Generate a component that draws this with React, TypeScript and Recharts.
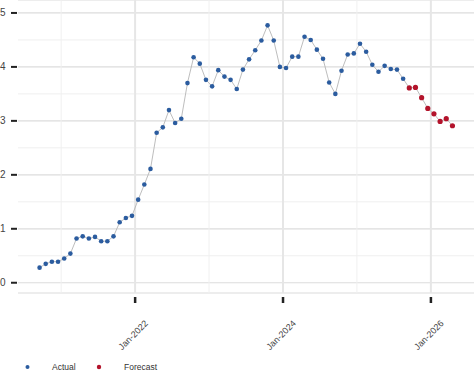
import React from 'react'
import { ComposedChart, Line, XAxis, YAxis, CartesianGrid, ReferenceLine } from 'recharts'

// monthly values
const actualMonths = [
  '2020-09', '2020-10', '2020-11', '2020-12',
  '2021-01', '2021-02', '2021-03', '2021-04', '2021-05', '2021-06', '2021-07', '2021-08', '2021-09', '2021-10', '2021-11', '2021-12',
  '2022-01', '2022-02', '2022-03', '2022-04', '2022-05', '2022-06', '2022-07', '2022-08', '2022-09', '2022-10', '2022-11', '2022-12',
  '2023-01', '2023-02', '2023-03', '2023-04', '2023-05', '2023-06', '2023-07', '2023-08', '2023-09', '2023-10', '2023-11', '2023-12',
  '2024-01', '2024-02', '2024-03', '2024-04', '2024-05', '2024-06', '2024-07', '2024-08', '2024-09', '2024-10', '2024-11', '2024-12',
  '2025-01', '2025-02', '2025-03', '2025-04', '2025-05', '2025-06', '2025-07', '2025-08',
]
const actualValues = [
  0.28, 0.35, 0.39, 0.39,
  0.45, 0.54, 0.82, 0.86, 0.82, 0.85, 0.77, 0.77, 0.86, 1.12, 1.2, 1.24,
  1.54, 1.82, 2.11, 2.78, 2.88, 3.2, 2.96, 3.04, 3.7, 4.18, 4.06, 3.76,
  3.64, 3.94, 3.82, 3.76, 3.59, 3.95, 4.14, 4.31, 4.49, 4.77, 4.49, 4.0,
  3.98, 4.19, 4.19, 4.56, 4.5, 4.32, 4.15, 3.71, 3.5, 3.93, 4.23, 4.25,
  4.43, 4.28, 4.04, 3.91, 4.02, 3.96, 3.95, 3.78,
]
const forecastMonths = ['2025-09', '2025-10', '2025-11', '2025-12', '2026-01', '2026-02', '2026-03', '2026-04']
const forecastValues = [3.61, 3.62, 3.43, 3.23, 3.13, 2.99, 3.04, 2.91]

const xTickMonths = ['2022-01', '2024-01', '2026-01']
const xTickLabels = ['Jan-2022', 'Jan-2024', 'Jan-2026']
const xMinorMonths = ['2021-01', '2023-01', '2025-01']
const yTicks = [0, 1, 2, 3, 4, 5]
const yMinor = [0.5, 1.5, 2.5, 3.5, 4.5]

const BLUE = '#2b5c9f'
const RED = '#b3132b'

// months since Jan-2022
const monthIndex = (m: string) => {
  const [y, mo] = m.split('-').map(Number)
  return (y - 2022) * 12 + (mo - 1)
}

const data = [
  ...actualMonths.map((m, i) => ({ x: monthIndex(m) + 0.5, line: actualValues[i], actual: actualValues[i] })),
  ...forecastMonths.map((m, i) => ({ x: monthIndex(m) + 0.5, line: forecastValues[i], forecast: forecastValues[i] })),
]

const xTicks = xTickMonths.map(monthIndex)

const YTick = ({ x, y, payload }: any) => (
  <g>
    <line x1={x - 7} x2={x - 1} y1={y} y2={y} stroke="#222" strokeWidth={2} />
    <text x={5.5} y={y} dy={3.5} textAnchor="end" fontSize={10} fill="#444" fontFamily="Liberation Sans, Arial, sans-serif">
      {payload.value}
    </text>
  </g>
)

const XTick = ({ x, y, payload }: any) => {
  const label = xTickLabels[xTicks.indexOf(payload.value)]
  const tx = x + 13.5
  const ty = y + 31
  return (
    <g>
      <rect x={x - 1.2} y={y + 4} width={2.5} height={6} fill="#222" />
      <text
        x={tx}
        y={ty}
        textAnchor="end"
        fontSize={9}
        fill="#444"
        fontFamily="Liberation Sans, Arial, sans-serif"
        transform={`rotate(-45 ${tx} ${ty})`}
      >
        {label}
      </text>
    </g>
  )
}

export default function App() {
  return (
    <div style={{ position: 'absolute', left: 0, top: 0, width: 474, height: 390, background: '#fff' }}>
      <ComposedChart width={474} height={390} data={data} margin={{ top: 0, right: 0, bottom: 0, left: 0 }}>
        <CartesianGrid vertical={false} stroke="#dcdcdc" strokeWidth={1.2} />
        {yMinor.map((v) => (
          <ReferenceLine key={`ym-${v}`} y={v} stroke="#efefef" strokeWidth={1} />
        ))}
        {xMinorMonths.map((m) => (
          <ReferenceLine key={`xm-${m}`} x={monthIndex(m)} stroke="#f0f0f0" strokeWidth={1} />
        ))}
        {xTicks.map((v) => (
          <ReferenceLine key={`xM-${v}`} x={v} stroke="#e6e6e6" strokeWidth={2} />
        ))}
        <XAxis
          type="number"
          dataKey="x"
          domain={[-19, 55]}
          ticks={xTicks}
          allowDataOverflow
          height={97}
          axisLine={false}
          tickLine={false}
          tickSize={0}
          tickMargin={0}
          interval={0}
          tick={<XTick />}
        />
        <YAxis
          type="number"
          domain={[-0.19, 5.24]}
          ticks={yTicks}
          allowDataOverflow
          width={18}
          axisLine={false}
          tickLine={false}
          tickSize={0}
          tickMargin={0}
          interval={0}
          tick={<YTick />}
        />
        <Line dataKey="line" stroke="#b5b5b5" strokeWidth={0.9} dot={false} isAnimationActive={false} />
        <Line
          dataKey="actual"
          stroke="none"
          dot={{ r: 2.3, fill: BLUE, stroke: 'none' }}
          activeDot={false}
          isAnimationActive={false}
        />
        <Line
          dataKey="forecast"
          stroke="none"
          dot={{ r: 2.6, fill: RED, stroke: 'none' }}
          activeDot={false}
          isAnimationActive={false}
        />
      </ComposedChart>
      <svg width={474} height={30} style={{ position: 'absolute', left: 0, top: 352 }}>
        <circle cx={27.5} cy={15} r={2} fill={BLUE} />
        <text x={52} y={18} fontSize={8.5} fill="#333" fontFamily="Liberation Sans, Arial, sans-serif">Actual</text>
        <circle cx={99} cy={15} r={2.2} fill={RED} />
        <text x={124} y={18} fontSize={8.5} fill="#333" fontFamily="Liberation Sans, Arial, sans-serif">Forecast</text>
      </svg>
    </div>
  )
}
